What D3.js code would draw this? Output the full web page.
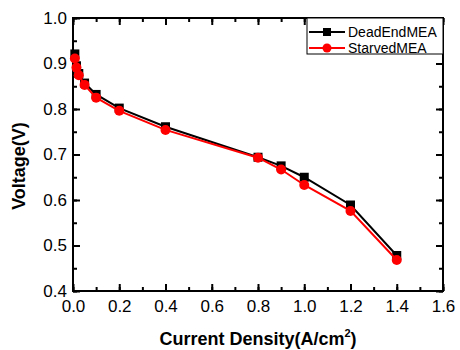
<!DOCTYPE html>
<html><head><meta charset="utf-8">
<script src="https://cdn.jsdelivr.net/npm/d3@7"></script>
<style>body{margin:0;background:#fff}svg{display:block}</style>
</head><body>
<svg id="c" width="460" height="350"></svg>
<script>
const seriesNames = ["DeadEndMEA", "StarvedMEA"];
const seriesColors = ["#000000", "#ff0000"];
const deadEndX = [0.008, 0.015, 0.025, 0.05, 0.1, 0.2, 0.4, 0.8, 0.9, 1.0, 1.2, 1.4];
const deadEndY = [0.921, 0.895, 0.878, 0.857, 0.832, 0.802, 0.761, 0.694, 0.675, 0.650, 0.589, 0.478];
const starvedX = [0.008, 0.015, 0.025, 0.05, 0.1, 0.2, 0.4, 0.8, 0.9, 1.0, 1.2, 1.4];
const starvedY = [0.911, 0.891, 0.874, 0.853, 0.825, 0.796, 0.754, 0.693, 0.667, 0.633, 0.576, 0.468];
const xTicks = [0.0, 0.2, 0.4, 0.6, 0.8, 1.0, 1.2, 1.4, 1.6];
const yTicks = [0.4, 0.5, 0.6, 0.7, 0.8, 0.9, 1.0];

const svg = d3.select("#c");
const L = 73, R = 443, T = 18, B = 291;
const x = d3.scaleLinear().domain([0, 1.6]).range([L, R]);
const y = d3.scaleLinear().domain([0.4, 1.0]).range([B, T]);
const font = "Liberation Sans, Arial, sans-serif";

const xMinor = d3.range(0, 1.61, 0.1);
const yMinor = d3.range(0.4, 1.001, 0.05);

function styleAxis(g) {
  g.select(".domain").remove();
  g.selectAll("line").attr("stroke", "#000").attr("stroke-width", 2);
  g.selectAll("text").attr("font-family", font).attr("font-size", 17).attr("fill", "#000");
}
// bottom
svg.append("g").attr("transform", `translate(0,${B})`)
  .call(d3.axisBottom(x).tickValues(xMinor).tickSize(-4).tickFormat("")).call(styleAxis);
svg.append("g").attr("transform", `translate(0,${B})`)
  .call(d3.axisBottom(x).tickValues(xTicks).tickSize(-7).tickPadding(9).tickFormat(d3.format(".1f"))).call(styleAxis);
// top
svg.append("g").attr("transform", `translate(0,${T})`)
  .call(d3.axisTop(x).tickValues(xMinor).tickSize(-4).tickFormat("")).call(styleAxis);
svg.append("g").attr("transform", `translate(0,${T})`)
  .call(d3.axisTop(x).tickValues(xTicks).tickSize(-7).tickFormat("")).call(styleAxis);
// left
svg.append("g").attr("transform", `translate(${L},0)`)
  .call(d3.axisLeft(y).tickValues(yMinor).tickSize(-4).tickFormat("")).call(styleAxis);
svg.append("g").attr("transform", `translate(${L},0)`)
  .call(d3.axisLeft(y).tickValues(yTicks).tickSize(-7).tickPadding(6).tickFormat(d3.format(".1f"))).call(styleAxis);
// right
svg.append("g").attr("transform", `translate(${R},0)`)
  .call(d3.axisRight(y).tickValues(yMinor).tickSize(-4).tickFormat("")).call(styleAxis);
svg.append("g").attr("transform", `translate(${R},0)`)
  .call(d3.axisRight(y).tickValues(yTicks).tickSize(-7).tickFormat("")).call(styleAxis);

svg.append("rect").attr("x", L).attr("y", T).attr("width", R - L).attr("height", B - T)
  .attr("fill", "none").attr("stroke", "#000").attr("stroke-width", 2);

const line = d3.line().x(d => x(d[0])).y(d => y(d[1]));
const dead = deadEndX.map((v, i) => [v, deadEndY[i]]);
const starved = starvedX.map((v, i) => [v, starvedY[i]]);

svg.append("path").datum(dead).attr("d", line).attr("fill", "none").attr("stroke", seriesColors[0]).attr("stroke-width", 2);
svg.selectAll(".sq").data(dead).enter().append("rect")
  .attr("x", d => x(d[0]) - 4.5).attr("y", d => y(d[1]) - 4.5).attr("width", 9).attr("height", 9).attr("fill", seriesColors[0]);
svg.append("path").datum(starved).attr("d", line).attr("fill", "none").attr("stroke", seriesColors[1]).attr("stroke-width", 2);
svg.selectAll(".ci").data(starved).enter().append("circle")
  .attr("cx", d => x(d[0])).attr("cy", d => y(d[1])).attr("r", 5).attr("fill", seriesColors[1]);

// legend
const lg = svg.append("g");
lg.append("rect").attr("x", 307).attr("y", 18).attr("width", 136).attr("height", 36)
  .attr("fill", "#fff").attr("stroke", "#000").attr("stroke-width", 1);
seriesNames.forEach((n, i) => {
  const cy = 32 + i * 16;
  lg.append("line").attr("x1", 309).attr("x2", 345).attr("y1", cy).attr("y2", cy).attr("stroke", seriesColors[i]).attr("stroke-width", 2);
  if (i === 0) lg.append("rect").attr("x", 323).attr("y", cy - 4).attr("width", 8).attr("height", 8).attr("fill", seriesColors[i]);
  else lg.append("circle").attr("cx", 327).attr("cy", cy).attr("r", 4.5).attr("fill", seriesColors[i]);
  lg.append("text").attr("x", 348).attr("y", cy + 5).attr("font-family", font).attr("font-size", 14).text(n);
});

// axis titles
const xt = svg.append("text").attr("x", 258).attr("y", 345).attr("text-anchor", "middle")
  .attr("font-family", font).attr("font-size", 18).attr("font-weight", "bold");
xt.append("tspan").text("Current Density(A/cm");
xt.append("tspan").attr("font-size", 11).attr("dy", -8).text("2");
xt.append("tspan").attr("dy", 8).text(")");

svg.append("text").attr("transform", "translate(25,166) rotate(-90)").attr("text-anchor", "middle")
  .attr("font-family", font).attr("font-size", 18).attr("font-weight", "bold").text("Voltage(V)");
</script>
</body></html>
